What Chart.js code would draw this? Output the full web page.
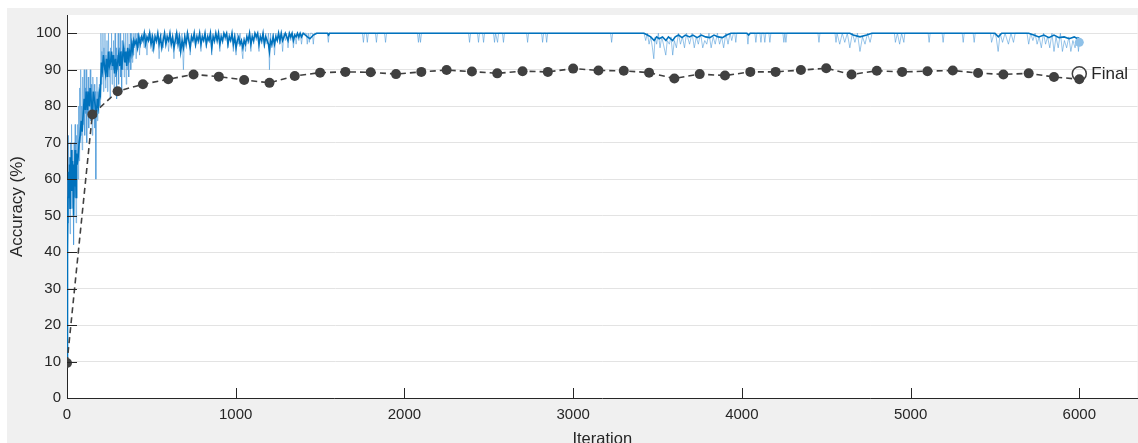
<!DOCTYPE html>
<html>
<head>
<meta charset="utf-8">
<script src="https://cdn.jsdelivr.net/npm/chart.js@4.4.0/dist/chart.umd.min.js"></script>
<style>
  html, body { margin: 0; padding: 0; background: #fff; overflow: hidden; }
  #panel { position: absolute; left: 7px; top: 8px; width: 1131px; height: 435px; background: #f0f0f0; }
  #wrap { position: absolute; left: 0; top: 0; width: 1146px; height: 455px; }
</style>
</head>
<body>
<div id="panel"></div>
<div id="wrap"><canvas id="accChart" width="1146" height="455"></canvas></div>
<script>
// raw training accuracy per iteration [iteration, accuracy %]
const trainRaw = [
  [0,10],[3,60],[6,48],[9,72],[12,55],[15,66],[18,45],[21,70],[24,58],[27,75],[30,52],[33,68],[36,60],[39,42],
  [42,70],[45,55],[48,75],[51,62],[54,48],[57,72],[60,65],[63,75],[66,60],[69,80],[72,65],[75,85],[78,70],[81,90],
  [84,72],[87,80],[90,68],[93,88],[96,75],[99,82],[102,90],[105,72],[108,85],[111,78],[114,90],[117,70],[120,84],
  [123,78],[126,88],[129,74],[132,85],[135,80],[138,90],[141,76],[144,86],[147,80],[150,72],[153,88],[156,82],
  [159,78],[162,86],[165,74],[168,84],[171,60],[174,80],[177,88],[180,76],[183,84],[186,78],[189,82],[192,86],
  [195,80],[198,88],[201,100],[204,86],[207,95],[210,88],[213,100],[216,84],[219,96],[222,90],[225,100],[228,85],
  [231,94],[234,88],[237,98],[240,84],[243,92],[246,100],[249,88],[252,95],[255,82],[258,96],[261,90],[264,100],
  [267,86],[270,94],[273,90],[276,98],[279,85],[282,92],[285,100],[288,88],[291,96],[294,82],[297,94],[300,90],
  [303,100],[306,86],[309,96],[312,92],[315,100],[318,88],[321,95],[324,84],[327,98],[330,90],[333,94],[336,100],
  [339,88],[342,96],[345,92],[348,100],[351,86],[354,95],[357,90],[360,100],[363,94],[366,88],[369,97],[372,92],
  [375,100],[378,90],[381,96],[384,100],[387,92],[390,98],[393,94],[396,100],[400,96],[405,100],[410,93],[415,100],
  [420,96],[425,100],[430,94],[435,99],[440,97],[445,100],
  [450,100],[458,96],[466,100],[474,94],[482,100],[490,98],[498,100],[506,95],[514,99],[522,100],[530,97],[538,100],
  [546,93],[554,99],[562,100],[570,96],[578,100],[586,98],[594,100],[602,95],[610,100],[618,97],[626,99],[634,93],
  [642,100],[650,97],[658,100],[666,95],[674,99],[682,100],[690,90],[698,100],[706,97],[714,99],[722,100],[730,94],
  [738,100],[746,98],[754,100],[762,96],[770,100],[778,97],[786,100],[794,95],[802,100],[810,98],[818,100],[826,96],
  [834,100],[842,98],[850,100],[858,94],[866,100],[874,97],[882,100],[890,98],[898,100],[906,95],[914,100],[922,97],
  [930,100],[938,98],[946,100],[954,96],[962,100],[970,98],[978,100],[986,95],[994,100],[1002,94],[1010,100],
  [1018,97],[1026,100],[1034,96],[1042,93],[1050,99],[1058,95],[1066,100],[1074,97],[1082,100],[1090,95],[1098,100],
  [1106,97],[1114,100],[1122,98],[1130,100],[1138,95],[1146,100],[1154,97],[1162,100],[1170,96],[1178,100],[1186,97],
  [1194,100],[1200,90],[1206,100],[1214,96],[1222,100],[1230,94],[1238,100],[1246,98],[1254,100],[1262,97],
  [1270,100],[1278,95],[1286,100],[1294,98],[1302,100],[1310,96],[1318,100],[1326,98],[1334,100],[1342,96],
  [1350,100],[1358,97],[1366,100],[1374,98],[1382,100],[1390,97],[1398,100],
  [1418,100],[1424,97],[1430,100],[1436,97.5],[1442,100],
  [1454,100],[1460,97],[1466,100],[1543,100],[1549,97.5],[1555,100],[1751,100],[1757,97.5],[1763,100],[1774,100],
  [1780,97.5],[1786,100],[1828,100],[1834,97.5],[1840,100],[1882,100],[1888,97.5],[1894,100],[2077,100],[2083,97.5],
  [2089,100],[2095,97.5],[2101,100],[2380,100],[2386,97.5],[2392,100],[2433,100],[2439,97.5],[2445,100],[2463,100],
  [2469,97.5],[2475,100],[2528,100],[2534,97.5],[2540,100],[2552,97.5],[2558,100],[2581,100],[2587,97.5],[2593,100],
  [2724,100],[2730,97.5],[2736,100],[2813,100],[2819,97.5],[2825,100],[2837,100],[2843,97.5],[2849,100],[3222,100],
  [3228,97.5],[3234,100],[3420,100],[3430,98],[3440,100],[3450,97],[3460,99],[3470,96],[3478,93],[3486,99],[3495,97],
  [3505,100],[3515,96],[3525,99],[3535,97],[3549,94],[3558,98],[3570,97],[3580,99],[3590,94],[3600,98],[3612,96],
  [3624,100],[3636,97],[3648,99],[3660,96],[3672,100],[3690,97],[3705,100],[3718,96],[3730,99],[3742,97],[3755,100],
  [3768,96],[3780,98],[3792,97],[3805,100],[3818,96],[3830,99],[3842,97],[3855,100],[3868,97],[3880,99],[3892,96],
  [3905,100],[3918,97],[3930,100],[3940,98],[3950,100],[3958,100],[3964,97.5],[3970,100],[4030,100],[4036,97],
  [4042,100],[4077,100],[4083,97.5],[4089,100],[4107,100],[4113,97.5],[4119,100],[4130,100],[4136,97.5],[4142,100],
  [4160,100],[4166,97.5],[4172,100],[4243,100],[4249,97.5],[4255,100],[4261,97.5],[4267,100],[4451,100],[4457,97.5],
  [4463,100],[4552,100],[4558,97.5],[4564,100],[4580,97],[4595,100],[4610,97.5],[4625,100],[4640,96],[4655,100],
  [4670,97.5],[4685,100],[4700,95],[4715,99],[4730,97],[4745,100],[4760,97.5],[4772,100],[4904,100],[4910,97.5],
  [4922,100],[4935,97],[4947,100],[4960,97.5],[4966,100],[5104,100],[5110,97.5],[5116,100],[5187,100],[5193,97.5],
  [5199,100],[5306,100],[5312,97.5],[5318,100],[5371,100],[5377,97.5],[5383,100],[5474,100],[5480,97.5],[5495,100],
  [5507,99],[5519,95],[5531,100],[5545,97.5],[5560,100],[5580,97],[5595,100],[5610,97.5],[5620,100],[5690,100],
  [5700,97],[5712,100],[5725,98],[5738,100],[5750,97],[5762,99],[5775,96],[5788,100],[5800,97],[5812,99],[5825,96],
  [5838,100],[5850,95],[5862,99],[5875,96],[5888,100],[5900,95],[5912,98],[5925,96],[5938,99],[5950,95],[5962,98],
  [5975,96],[5988,99],[5995,95],[6000,97.5]
];

// smoothed training accuracy [iteration, accuracy %]
const trainSmooth = [
  [0,10],[3,40],[6,55],[9,62],[12,58],[15,64],[18,52],[21,66],[24,60],[27,68],[30,57],[33,65],[36,61],[39,50],
  [42,64],[45,58],[48,68],[51,63],[54,55],[57,67],[60,64],[66,66],[72,70],[78,72],[84,76],[90,73],[96,78],[102,82],
  [108,79],[114,84],[120,79],[126,84],[132,80],[138,85],[144,81],[150,78],[156,84],[162,82],[168,80],[174,77],
  [180,82],[186,80],[192,84],[198,83],[204,92],[210,90],[216,94],[222,91],[228,89],[234,93],[240,88],[246,95],
  [252,91],[258,92],[264,95],[270,91],[276,94],[282,89],[288,93],[294,90],[300,92],[306,94],[312,91],[318,95],
  [324,90],[330,94],[336,96],[342,92],[348,95],[354,91],[360,96],[366,93],[372,95],[378,94],[384,97],[390,95],
  [396,98],[402,97],[410,98],[418,96],[426,99],[434,97],[442,99],[450,98],[458,100],[466,97],[474,99],[482,98],
  [490,100],[498,97],[506,99],[514,96],[522,99],[530,98],[538,100],[546,97],[554,99],[562,96],[570,98],[578,100],
  [586,97],[594,99],[602,98],[610,100],[618,97],[626,99],[634,96],[642,98],[650,100],[658,97],[666,99],[674,95],
  [682,98],[690,96],[698,99],[706,97],[714,100],[722,98],[730,96],[738,99],[746,98],[754,100],[762,97],[770,99],
  [778,98],[786,100],[794,97],[802,99],[810,98],[818,100],[826,97],[834,99],[842,98],[850,100],[858,96],[866,99],
  [874,98],[882,100],[890,98],[898,100],[906,97],[914,99],[922,98],[930,100],[938,99],[946,100],[954,97],[962,99],
  [970,98],[978,100],[986,97],[994,99],[1002,96],[1010,98],[1018,99],[1026,97],[1034,98],[1042,96],[1050,98],
  [1058,97],[1066,99],[1074,98],[1082,100],[1090,97],[1098,99],[1106,98],[1114,100],[1122,99],[1130,100],[1138,97],
  [1146,99],[1154,98],[1162,100],[1170,97],[1178,99],[1186,98],[1194,97],[1200,95],[1206,98],[1214,97],[1222,99],
  [1230,97],[1238,99],[1246,98],[1254,100],[1262,98],[1270,100],[1278,98],[1286,99],[1294,100],[1302,99],[1310,98],
  [1318,100],[1326,99],[1334,100],[1342,98],[1350,99.5],[1358,99],[1366,100],[1374,99],[1382,100],[1390,99],
  [1400,100],[1425,99],[1440,98.5],[1460,99.5],[1480,100],[1545,100],[1550,99.5],[1556,100],[3420,100],
  [3440,99.5],[3460,99],[3480,98],[3495,99],[3510,98.5],[3530,99],[3550,98],[3565,99],[3590,98],[3605,99],
  [3625,99.5],[3645,98.8],[3665,99.5],[3690,99],[3710,99.5],[3735,98.8],[3760,99.5],[3785,99],[3810,98.8],[3835,99.5],
  [3860,99],[3885,98.8],[3910,99.5],[3935,100],[4030,100],[4040,99.5],[4050,100],[4640,100],[4660,99.5],[4700,99],
  [4740,99.5],[4770,100],[5500,100],[5520,99],[5540,100],[5700,100],[5730,99.5],[5760,99],[5790,99.5],[5820,98.8],
  [5850,99.5],[5880,98.8],[5910,99],[5940,98.5],[5970,99],[5990,98.5],[6000,98.8]
];

// validation accuracy, every 150 iterations
const valIter = [0,150,300,450,600,750,900,1050,1200,1350,1500,1650,1800,1950,2100,2250,2400,2550,2700,2850,
  3000,3150,3300,3450,3600,3750,3900,4050,4200,4350,4500,4650,4800,4950,5100,5250,5400,5550,5700,5850,6000];
const valAcc = [9.6,77.7,84.1,86.0,87.4,88.7,88.1,87.2,86.4,88.3,89.2,89.4,89.3,88.8,89.4,89.9,89.5,89.0,89.6,89.4,
  90.3,89.8,89.7,89.2,87.6,88.8,88.4,89.4,89.4,89.9,90.4,88.7,89.7,89.4,89.6,89.8,89.1,88.7,89.0,88.0,87.4];

// final markers
const finalIter = 6000;
const finalVal = 88.9;
const finalTrain = 97.5;

const yTicks = [0,10,20,30,40,50,60,70,80,90,100];
const xTicks = [0,1000,2000,3000,4000,5000,6000];

const axisColor = '#262626';
const fontFam = '"Liberation Sans", Arial, Helvetica, sans-serif';

const plotBg = {
  id: 'plotBg',
  beforeDraw(chart) {
    const {ctx, chartArea: a} = chart;
    ctx.save();
    ctx.fillStyle = '#ffffff';
    ctx.fillRect(a.left, a.top, a.right - a.left, a.bottom - a.top);
    ctx.restore();
  }
};

const innerTicks = {
  id: 'innerTicks',
  afterDraw(chart) {
    const {ctx, chartArea: a, scales} = chart;
    ctx.save();
    ctx.strokeStyle = axisColor;
    ctx.lineWidth = 1;
    ctx.beginPath();
    yTicks.forEach(v => {
      const y = Math.round(scales.y.getPixelForValue(v)) + 0.5;
      ctx.moveTo(a.left, y);
      ctx.lineTo(a.left + 10, y);
    });
    xTicks.forEach(v => {
      const x = Math.round(scales.x.getPixelForValue(v)) + 0.5;
      ctx.moveTo(x, a.bottom);
      ctx.lineTo(x, a.bottom - 10);
    });
    ctx.stroke();

    // "Final" label next to the final validation marker
    const fx = scales.x.getPixelForValue(finalIter);
    const fy = scales.y.getPixelForValue(finalVal);
    ctx.fillStyle = axisColor;
    ctx.font = '17px ' + fontFam;
    ctx.textBaseline = 'middle';
    ctx.fillText('Final', fx + 12, fy + 1);
    ctx.restore();
  }
};

new Chart(document.getElementById('accChart'), {
  type: 'line',
  data: {
    datasets: [{
      label: 'Final validation',
      data: [{x: finalIter, y: finalVal}],
      showLine: false,
      pointRadius: 7,
      pointBackgroundColor: 'rgba(0,0,0,0)',
      pointBorderColor: '#404040',
      pointBorderWidth: 1.5,
      order: 0
    }, {
      label: 'Final training',
      data: [{x: finalIter, y: finalTrain}],
      showLine: false,
      pointRadius: 4.5,
      pointBackgroundColor: '#8fc1e8',
      pointBorderWidth: 0,
      order: 1
    }, {
      label: 'Validation',
      data: valIter.map((it, i) => ({x: it, y: valAcc[i]})),
      borderColor: '#404040',
      borderWidth: 1.6,
      borderDash: [6, 4],
      pointRadius: 5,
      pointBackgroundColor: '#404040',
      pointBorderWidth: 0,
      order: 2
    }, {
      label: 'Training (smoothed)',
      data: trainSmooth.map(p => ({x: p[0], y: p[1]})),
      borderColor: '#0072bd',
      borderWidth: 1.6,
      pointRadius: 0,
      order: 3
    }, {
      label: 'Training',
      data: trainRaw.map(p => ({x: p[0], y: p[1]})),
      borderColor: 'rgba(70,150,215,0.55)',
      borderWidth: 1,
      pointRadius: 0,
      order: 4
    }]
  },
  options: {
    responsive: false,
    animation: false,
    devicePixelRatio: 1,
    elements: {line: {tension: 0}},
    layout: {padding: {left: 0, top: 15, right: 2, bottom: 0}},
    plugins: {
      legend: {display: false},
      tooltip: {enabled: false}
    },
    scales: {
      x: {
        type: 'linear',
        min: 0,
        max: 6345,
        afterBuildTicks: s => { s.ticks = xTicks.map(v => ({value: v})); },
        afterFit: s => { s.height = 57; s.paddingRight = 0; },
        grid: {display: false, drawTicks: false},
        border: {display: true, color: axisColor, width: 1},
        ticks: {
          maxRotation: 0,
          autoSkip: false,
          padding: 8,
          color: axisColor,
          font: {family: fontFam, size: 15},
          callback: v => String(v)
        },
        title: {
          display: true,
          text: 'Iteration',
          color: axisColor,
          font: {family: fontFam, size: 16.5},
          padding: {top: 0, bottom: 6}
        }
      },
      y: {
        min: 0,
        max: 105,
        afterBuildTicks: s => { s.ticks = yTicks.map(v => ({value: v})); },
        afterFit: s => { s.width = 67; },
        grid: {color: '#e3e3e3', drawTicks: false},
        border: {display: true, color: axisColor, width: 1},
        ticks: {
          padding: 6,
          autoSkip: false,
          color: axisColor,
          font: {family: fontFam, size: 15},
          callback: v => String(v)
        },
        title: {
          display: true,
          text: 'Accuracy (%)',
          color: axisColor,
          font: {family: fontFam, size: 17},
          padding: {top: 7, bottom: 0}
        }
      }
    }
  },
  plugins: [plotBg, innerTicks]
});
</script>
</body>
</html>
